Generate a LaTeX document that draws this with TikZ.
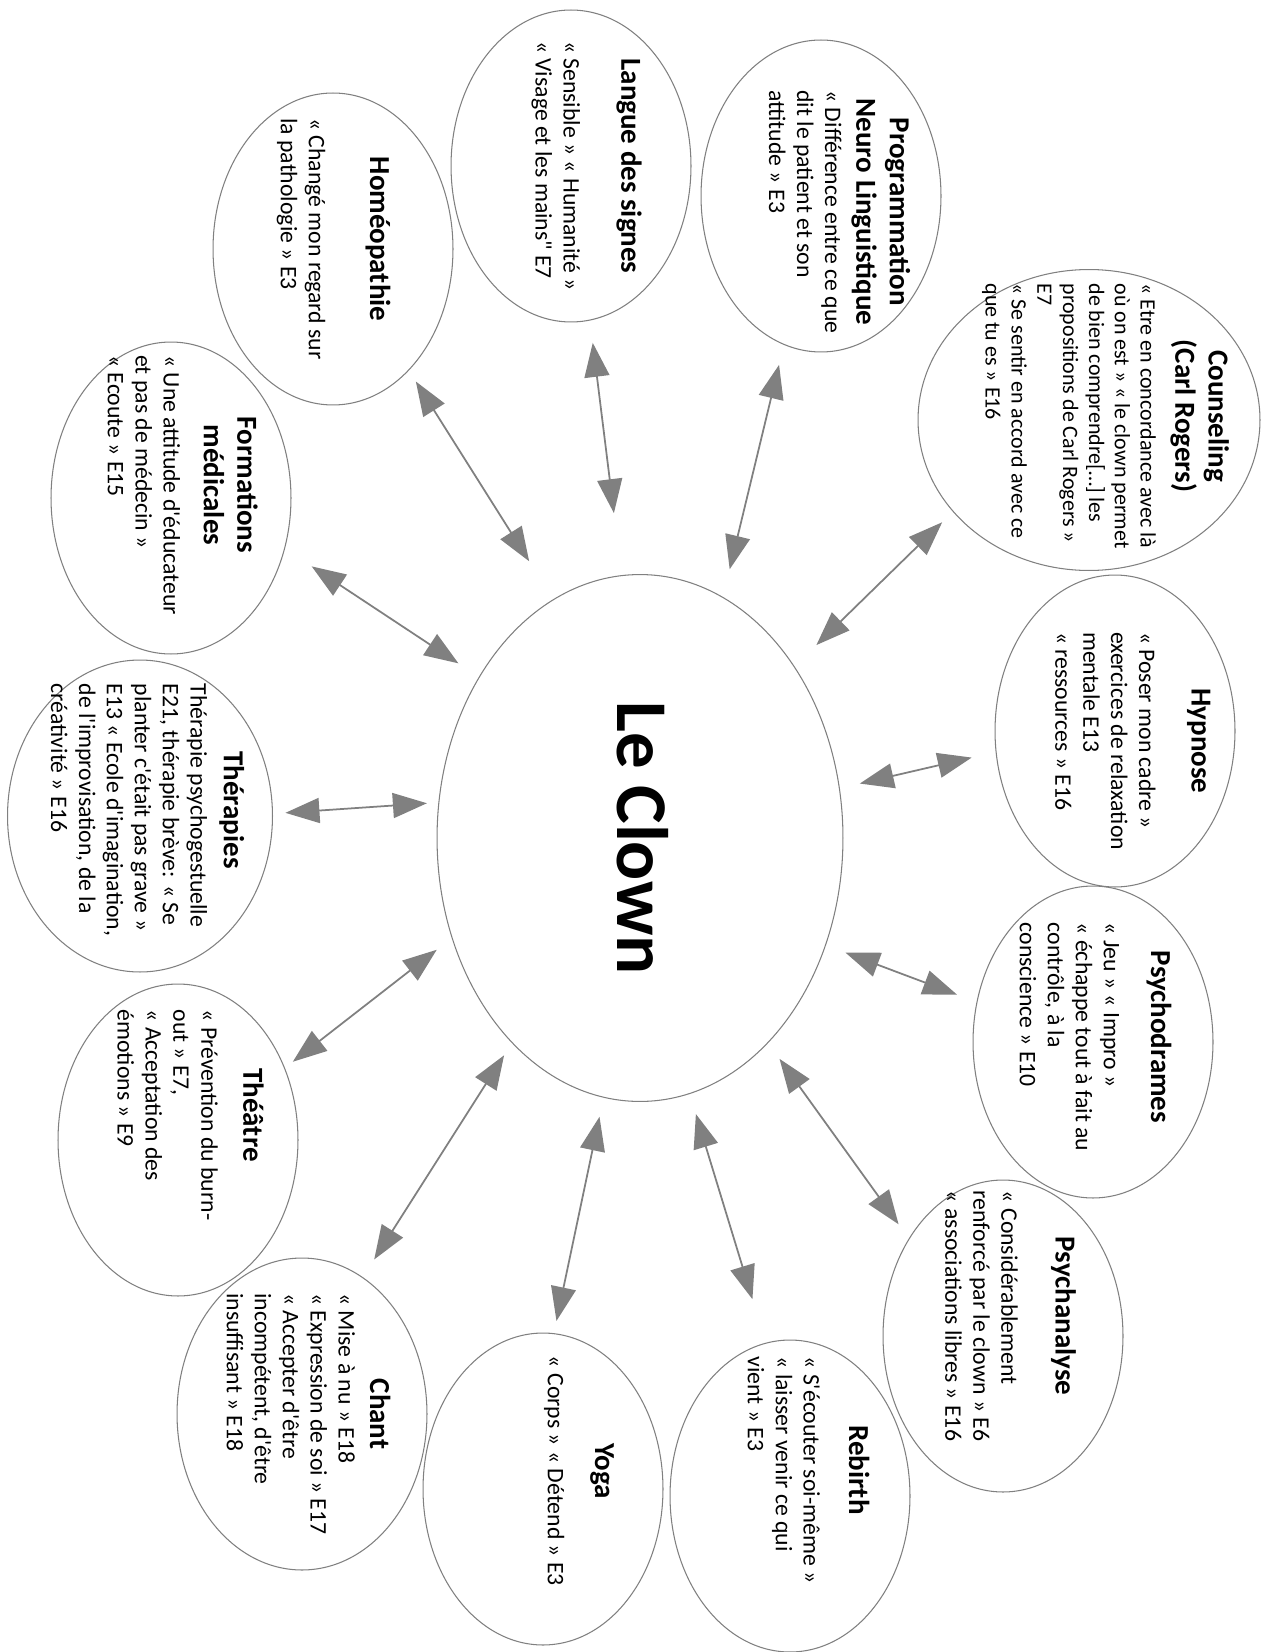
\documentclass[tikz,border=0pt]{standalone}
\usepackage{fontspec}
\newfontfamily\calibri{Carlito}
\usetikzlibrary{shapes.geometric, arrows.meta, calc}

\definecolor{linegray}{RGB}{128,128,128}
\definecolor{arrowgray}{RGB}{128,128,128}

\newcommand{\headfont}{\fontsize{16.5}{19}\selectfont\bfseries}
% title centred, quotes left aligned
\newcommand{\bubbletext}[3]{\begin{tabular}{@{}l@{}}\multicolumn{1}{@{}c@{}}{\headfont\begin{tabular}[b]{@{}c@{}}#1\end{tabular}}\\[#2]#3\end{tabular}}

\tikzset{
  topic/.style={ellipse, draw=linegray, line width=0.6pt, inner sep=0pt, minimum width=4.8cm, minimum height=6.24cm},
  note/.style={rotate=-90, inner sep=0pt, font=\calibri\fontsize{13.5}{15.9}\selectfont},
  link/.style={{Triangle[length=0.68cm,width=0.5cm]}-{Triangle[length=0.68cm,width=0.5cm]}, draw=arrowgray, fill=arrowgray, line width=1pt}
}

\begin{document}
\begin{tikzpicture}[x=0.02cm, y=-0.02cm]
    \path[use as bounding box, fill=white] (0,0) rectangle (1271,1652);

    \node[topic, minimum width=8.12cm, minimum height=10.54cm] (clown) at (640,838) {};
    \node[note, font=\calibri\fontsize{41.5}{50}\selectfont\bfseries] (clown-txt) at ($(clown)+(3,0)$) {Le Clown};

    \node[topic] (homeo) at (333,249) {};
    \node[note] (homeo-txt) at ($(homeo)+(0,-10)$) {\bubbletext{Homéopathie}{19pt}{« Changé mon regard sur\\la pathologie » E3}};

    \node[topic] (signes) at (571,166) {};
    \node[note] (signes-txt) at ($(signes)+(15,0)$) {\bubbletext{Langue des signes}{17pt}{« Sensible » « Humanité »\\« Visage et les mains" E7}};

    \node[topic] (pnl) at (821,196) {};
    \node[note] (pnl-txt) at ($(pnl)+(16,16)$) {\bubbletext{Programmation\\Neuro Linguistique}{2pt}{« Différence entre ce que\\dit le patient et son\\attitude » E3}};

    \node[topic, minimum width=6.84cm, minimum height=6.02cm] (rogers) at (1089,420) {};
    \node[note, font=\calibri\fontsize{12.5}{14.7}\selectfont] (rogers-txt) at ($(rogers)+(16,-4)$) {\bubbletext{Counseling\\(Carl Rogers)}{5pt}{« Etre en concordance avec là\\où on est » « le clown permet\\de bien comprendre[…] les\\propositions de Carl Rogers »\\E7\\« Se sentir en accord avec ce\\que tu es » E16}};

    \node[topic] (hypnose) at (1115,731) {};
    \node[note] (hypnose-txt) at ($(hypnose)+(16,10)$) {\bubbletext{Hypnose}{14pt}{« Poser mon cadre »\\exercices de relaxation\\mentale E13\\« ressources » E16}};

    \node[topic] (drame) at (1093,1042) {};
    \node[note] (drame-txt) at ($(drame)+(0,-5)$) {\bubbletext{Psychodrames}{11pt}{« Jeu » « Impro »\\« échappe tout à fait au\\contrôle, à la\\conscience » E10}};

    \node[topic] (analyse) at (1003,1336) {};
    \node[note] (analyse-txt) at ($(analyse)+(5,-20)$) {\bubbletext{Psychanalyse}{15pt}{« Considérablement\\renforcé par le clown » E6\\« associations libres » E16}};

    \node[topic] (rebirth) at (790,1496) {};
    \node[note] (rebirth-txt) at ($(rebirth)+(16,-26)$) {\bubbletext{Rebirth}{10pt}{« S'écouter soi-même »\\« laisser venir ce qui\\vient » E3}};

    \node[topic] (yoga) at (543,1489) {};
    \node[note] (yoga-txt) at ($(yoga)+(36,-18)$) {\bubbletext{Yoga}{11pt}{« Corps » « Détend » E3}};

    \node[topic, minimum width=5cm] (chant) at (302,1414) {};
    \node[note] (chant-txt) at ($(chant)+(4,0)$) {\bubbletext{Chant}{2pt}{« Mise à nu » E18\\« Expression de soi » E17\\« Accepter d'être\\incompétent, d'être\\insuffisant » E18}};

    \node[topic] (theatre) at (178,1140) {};
    \node[note] (theatre-txt) at ($(theatre)+(10,-25)$) {\bubbletext{Théâtre}{8pt}{« Prévention du burn-\\out » E7,\\« Acceptation des\\émotions » E9}};

    \node[topic, minimum width=5.3cm] (therapies) at (140,816) {};
    \node[note] (therapies-txt) at ($(therapies)+(5,-6)$) {\bubbletext{Thérapies}{3pt}{Thérapie psychogestuelle\\E21, thérapie brève: « Se\\planter c'était pas grave »\\E13 « Ecole d'imagination,\\de l'improvisation, de la\\créativité » E16}};

    \node[topic] (medic) at (171,498) {};
    \node[note] (medic-txt) at ($(medic)+(9,-13)$) {\bubbletext{Formations\\médicales}{7pt}{« Une attitude d'éducateur\\et pas de médecin »\\« Ecoute » E15}};

    % double arrows towards the clown
    \draw[link, shorten <=0.26cm, shorten >=0.90cm] (homeo.-58.7) -- (clown.110.9);
    \draw[link, shorten <=0.45cm, shorten >=1.25cm] (signes.-83.9) -- (clown.94.6);
    \draw[link, shorten <=0.41cm, shorten >=0.57cm] (pnl.-104.4) -- (clown.71.7);
    \draw[link, shorten <=0.30cm, shorten >=0.61cm] (rogers.-146) -- (clown.48.3);
    \draw[link, shorten <=0.49cm, shorten >=0.41cm] (hypnose.-170.5) -- (clown.14.3);
    \draw[link, shorten <=0.42cm, shorten >=0.42cm] (drame.161.3) -- (clown.-30.4);
    \draw[link, shorten <=0.35cm, shorten >=0.39cm] (analyse.134.7) -- (clown.-58.9);
    \draw[link, shorten <=0.91cm, shorten >=0.42cm] (rebirth.99.8) -- (clown.-79.3);
    \draw[link, shorten <=0.25cm, shorten >=0.39cm] (yoga.86.6) -- (clown.-98.6);
    \draw[link, shorten <=0.42cm, shorten >=0.29cm] (chant.66.9) -- (clown.-122.2);
    \draw[link, shorten <=0.20cm, shorten >=0.38cm] (theatre.34.1) -- (clown.-152.2);
    \draw[link, shorten <=0.25cm, shorten >=0.23cm] (therapies.1.6) -- (clown.170.9);
    \draw[link, shorten <=0.64cm, shorten >=0.49cm] (medic.-24.1) -- (clown.135.3);
\end{tikzpicture}
\end{document}
